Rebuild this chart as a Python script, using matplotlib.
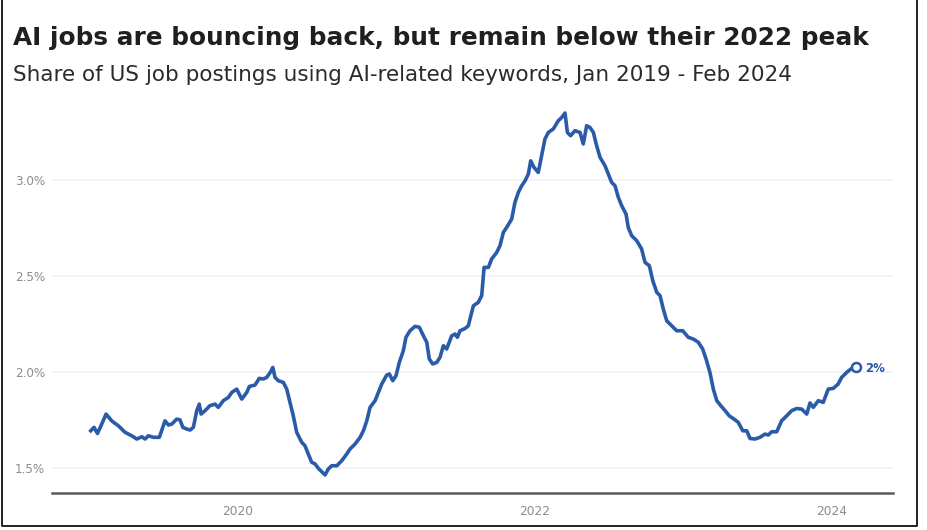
import numpy as np
import matplotlib

matplotlib.use('Agg')
import matplotlib.pyplot as plt
from matplotlib.lines import Line2D

# Share of US job postings with AI keywords (%)
# x is the date as a decimal year
years = [2019.008, 2019.030, 2019.053, 2019.082, 2019.111, 2019.149, 2019.194, 2019.239,
         2019.284, 2019.318, 2019.352, 2019.374, 2019.396, 2019.430, 2019.470, 2019.508,
         2019.531, 2019.554, 2019.587, 2019.609, 2019.628, 2019.655, 2019.677, 2019.699,
         2019.722, 2019.739, 2019.751, 2019.778, 2019.811, 2019.845, 2019.867, 2019.901,
         2019.935, 2019.958, 2019.991, 2020.025, 2020.059, 2020.076, 2020.114, 2020.143,
         2020.170, 2020.193, 2020.220, 2020.234, 2020.249, 2020.271, 2020.305, 2020.328,
         2020.350, 2020.372, 2020.395, 2020.429, 2020.451, 2020.473, 2020.496, 2020.519,
         2020.541, 2020.564, 2020.586, 2020.608, 2020.631, 2020.665, 2020.698, 2020.732,
         2020.754, 2020.788, 2020.822, 2020.844, 2020.867, 2020.889, 2020.923, 2020.945,
         2020.968, 2021.001, 2021.019, 2021.042, 2021.064, 2021.086, 2021.113, 2021.131,
         2021.158, 2021.192, 2021.221, 2021.248, 2021.271, 2021.288, 2021.311, 2021.338,
         2021.360, 2021.383, 2021.405, 2021.439, 2021.461, 2021.477, 2021.495, 2021.529,
         2021.551, 2021.562, 2021.585, 2021.618, 2021.641, 2021.657, 2021.686, 2021.708,
         2021.742, 2021.764, 2021.787, 2021.809, 2021.843, 2021.865, 2021.888, 2021.910,
         2021.933, 2021.955, 2021.971, 2021.993, 2022.022, 2022.045, 2022.067, 2022.090,
         2022.123, 2022.157, 2022.180, 2022.202, 2022.218, 2022.240, 2022.269, 2022.303,
         2022.325, 2022.348, 2022.370, 2022.393, 2022.415, 2022.438, 2022.471, 2022.494,
         2022.516, 2022.539, 2022.561, 2022.584, 2022.613, 2022.628, 2022.651, 2022.685,
         2022.718, 2022.741, 2022.770, 2022.793, 2022.820, 2022.842, 2022.864, 2022.887,
         2022.921, 2022.954, 2022.995, 2023.032, 2023.066, 2023.100, 2023.129, 2023.152,
         2023.178, 2023.201, 2023.224, 2023.251, 2023.280, 2023.308, 2023.340, 2023.369,
         2023.399, 2023.426, 2023.448, 2023.481, 2023.515, 2023.549, 2023.571, 2023.594,
         2023.628, 2023.661, 2023.695, 2023.729, 2023.762, 2023.796, 2023.830, 2023.852,
         2023.874, 2023.908, 2023.941, 2023.975, 2024.009, 2024.042, 2024.065, 2024.099,
         2024.133, 2024.160]

share = [1.694, 1.712, 1.680, 1.729, 1.781, 1.746, 1.720, 1.686,
         1.668, 1.651, 1.663, 1.651, 1.668, 1.660, 1.660, 1.746,
         1.724, 1.729, 1.755, 1.751, 1.712, 1.703, 1.698, 1.712,
         1.799, 1.833, 1.781, 1.799, 1.825, 1.833, 1.816, 1.851,
         1.868, 1.894, 1.911, 1.859, 1.894, 1.925, 1.932, 1.967,
         1.964, 1.972, 2.002, 2.024, 1.972, 1.955, 1.946, 1.911,
         1.842, 1.772, 1.686, 1.634, 1.616, 1.573, 1.530, 1.521,
         1.498, 1.481, 1.464, 1.495, 1.512, 1.512, 1.538, 1.573,
         1.599, 1.625, 1.660, 1.694, 1.746, 1.816, 1.851, 1.894,
         1.938, 1.984, 1.990, 1.955, 1.981, 2.050, 2.111, 2.181,
         2.215, 2.238, 2.233, 2.189, 2.155, 2.068, 2.042, 2.050,
         2.076, 2.137, 2.120, 2.189, 2.198, 2.181, 2.215, 2.227,
         2.241, 2.276, 2.345, 2.363, 2.398, 2.545, 2.545, 2.589,
         2.623, 2.658, 2.728, 2.753, 2.797, 2.884, 2.936, 2.970,
         2.996, 3.031, 3.100, 3.066, 3.040, 3.128, 3.214, 3.248,
         3.266, 3.309, 3.326, 3.349, 3.248, 3.231, 3.257, 3.248,
         3.188, 3.283, 3.274, 3.248, 3.179, 3.118, 3.075, 3.031,
         2.988, 2.970, 2.910, 2.866, 2.823, 2.753, 2.710, 2.684,
         2.641, 2.571, 2.554, 2.476, 2.415, 2.398, 2.328, 2.267,
         2.241, 2.215, 2.215, 2.181, 2.172, 2.155, 2.120, 2.068,
         1.998, 1.911, 1.851, 1.825, 1.799, 1.772, 1.755, 1.738,
         1.694, 1.694, 1.654, 1.651, 1.660, 1.677, 1.672, 1.689,
         1.689, 1.746, 1.772, 1.799, 1.810, 1.807, 1.781, 1.839,
         1.816, 1.851, 1.842, 1.911, 1.915, 1.938, 1.972, 1.998,
         2.019, 2.024]

y_ticks = [1.5, 2.0, 2.5, 3.0]
y_tick_labels = ["1.5%", "2.0%", "2.5%", "3.0%"]
x_ticks = [2020, 2022, 2024]
x_tick_labels = ["2020", "2022", "2024"]
end_label = "2%"

title = "AI jobs are bouncing back, but remain below their 2022 peak"
subtitle = "Share of US job postings using AI-related keywords, Jan 2019 - Feb 2024"

BLUE = "#2a5ba8"
W, H = 927, 530

plt.rcParams['font.family'] = ['DejaVu Sans']

fig = plt.figure(figsize=(W / 100, H / 100), dpi=100)
ax = fig.add_axes([52 / W, 37 / H, 841 / W, 393.6 / H])

ax.plot(years, share, color=BLUE, linewidth=2.6, solid_joinstyle='round', zorder=3)
ax.plot(years[-1], share[-1], 'o', markersize=6.5, markerfacecolor='white',
        markeredgecolor=BLUE, markeredgewidth=1.8, zorder=4)
ax.annotate(end_label, (years[-1], share[-1]), xytext=(7, -1), textcoords='offset points',
            va='center', ha='left', fontsize=8.5, fontweight='bold', color=BLUE)

ax.set_xlim(2018.747, 2024.411)
ax.set_ylim(1.37, 3.42)
ax.set_yticks(y_ticks)
ax.set_yticklabels(y_tick_labels)
ax.set_xticks(x_ticks)
ax.set_xticklabels(x_tick_labels)
ax.tick_params(axis='both', length=0, labelcolor='#8c8c8c')
ax.tick_params(axis='y', pad=5, labelsize=8.6)
ax.tick_params(axis='x', pad=8.5, labelsize=8.8)

ax.grid(axis='y', color='#edf1f6', linewidth=1.2)
ax.set_axisbelow(True)
for side in ['top', 'right', 'left']:
    ax.spines[side].set_visible(False)
ax.spines['bottom'].set_color('#5a5a5a')
ax.spines['bottom'].set_linewidth(1.8)

t1 = fig.text(13 / W, 1 - 45 / H, title, fontsize=18, fontweight='bold', color='#1f1f1f',
              ha='left', va='baseline')
t2 = fig.text(13 / W, 1 - 81 / H, subtitle, fontsize=14, color='#2b2b2b',
              ha='left', va='baseline')

# scale the heading sizes so they span the same width as in the source
renderer = fig.canvas.get_renderer()
for txt, target in [(t1, 856), (t2, 782)]:
    w = txt.get_window_extent(renderer).width
    txt.set_fontsize(txt.get_fontsize() * target / w)

# frame round the whole picture
frame = Line2D([2 / W, 2 / W, 917 / W, 917 / W], [1.0, 1 - 525.5 / H, 1 - 525.5 / H, 1.0],
               transform=fig.transFigure, color='#111111', linewidth=1.3)
fig.add_artist(frame)

fig.savefig("out.png", dpi=100)
